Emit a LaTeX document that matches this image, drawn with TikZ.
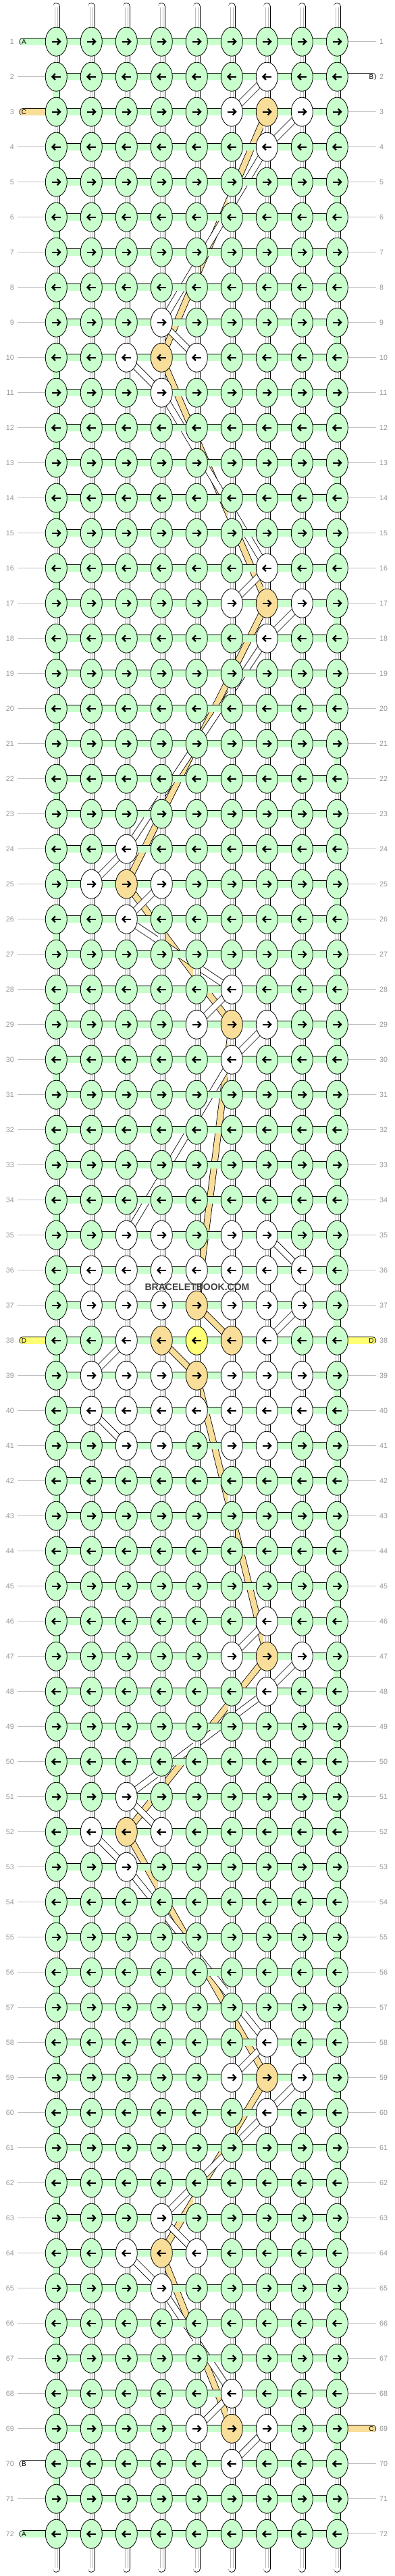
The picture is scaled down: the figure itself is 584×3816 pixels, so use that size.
\documentclass[tikz,border=0pt]{standalone}
\usepackage{fontspec}
\setmainfont{Liberation Sans}
\usetikzlibrary{shapes.geometric}
\definecolor{kgreen}{RGB}{200,255,204}
\definecolor{korange}{RGB}{249,222,154}
\definecolor{kyellow}{RGB}{255,255,117}
\definecolor{kwhite}{RGB}{255,255,255}
\definecolor{numgray}{RGB}{150,150,150}
\definecolor{linegray}{RGB}{190,190,190}
\definecolor{innergray}{RGB}{185,185,185}
\definecolor{wmgray}{RGB}{64,64,64}
\pgfdeclarelayer{diag}
\pgfdeclarelayer{seg}
\pgfsetlayers{diag,seg,main}
\newcommand\knotrow[2]{\foreach \cc/\kk in {#2}{\expandafter\xdef\csname kc-#1-\cc\endcsname{\kk}}}
\knotrow{2}{7/kwhite}
\knotrow{3}{6/kwhite,7/korange,8/kwhite}
\knotrow{4}{7/kwhite}
\knotrow{9}{4/kwhite}
\knotrow{10}{3/kwhite,4/korange,5/kwhite}
\knotrow{11}{4/kwhite}
\knotrow{16}{7/kwhite}
\knotrow{17}{6/kwhite,7/korange,8/kwhite}
\knotrow{18}{7/kwhite}
\knotrow{24}{3/kwhite}
\knotrow{25}{2/kwhite,3/korange,4/kwhite}
\knotrow{26}{3/kwhite}
\knotrow{28}{6/kwhite}
\knotrow{29}{5/kwhite,6/korange,7/kwhite}
\knotrow{30}{6/kwhite}
\knotrow{35}{3/kwhite,4/kwhite,6/kwhite,7/kwhite}
\knotrow{36}{2/kwhite,3/kwhite,4/kwhite,5/kwhite,6/kwhite,7/kwhite,8/kwhite}
\knotrow{37}{2/kwhite,3/kwhite,4/kwhite,5/korange,6/kwhite,7/kwhite,8/kwhite}
\knotrow{38}{3/kwhite,4/korange,5/kyellow,6/korange,7/kwhite}
\knotrow{39}{2/kwhite,3/kwhite,4/kwhite,5/korange,6/kwhite,7/kwhite,8/kwhite}
\knotrow{40}{2/kwhite,3/kwhite,4/kwhite,5/kwhite,6/kwhite,7/kwhite,8/kwhite}
\knotrow{41}{3/kwhite,4/kwhite,6/kwhite,7/kwhite}
\knotrow{46}{7/kwhite}
\knotrow{47}{6/kwhite,7/korange,8/kwhite}
\knotrow{48}{7/kwhite}
\knotrow{51}{3/kwhite}
\knotrow{52}{2/kwhite,3/korange,4/kwhite}
\knotrow{53}{3/kwhite}
\knotrow{58}{7/kwhite}
\knotrow{59}{6/kwhite,7/korange,8/kwhite}
\knotrow{60}{7/kwhite}
\knotrow{63}{4/kwhite}
\knotrow{64}{3/kwhite,4/korange,5/kwhite}
\knotrow{65}{4/kwhite}
\knotrow{68}{6/kwhite}
\knotrow{69}{5/kwhite,6/korange,7/kwhite}
\knotrow{70}{6/kwhite}
\begin{document}
\begin{tikzpicture}[x=1pt,y=-1pt,
 knot/.style={shape=ellipse,draw=black,line width=0.8pt,minimum width=32pt,minimum height=43pt,inner sep=0pt},
 arrowline/.style={line width=2.3pt,line cap=butt,line join=miter},
 strand/.style={draw=black,line width=0.8pt,double=#1,double distance=9.7pt},
 innerline/.style={draw=innergray,line width=0.6pt},
 band/.style={draw=black,line width=0.8pt,double=#1,double distance=8.2pt},
 numlabel/.style={text=numgray,font=\fontsize{10.7}{12}\selectfont,inner sep=0pt},
 stubletter/.style={text=black,font=\fontsize{10}{11}\selectfont,inner sep=0pt},
 guide/.style={draw=linegray,line width=0.8pt},
]
\useasboundingbox (0,0) rectangle (584,3816);
% knots
\foreach \r in {1,...,72}{
 \foreach \c in {1,...,9}{
  \pgfmathsetmacro\xx{83.3+52*(\c-1)}
  \pgfmathsetmacro\yy{61.7+52*(\r-1)}
  \ifcsname kc-\r-\c\endcsname\edef\kcol{\csname kc-\r-\c\endcsname}\else\def\kcol{kgreen}\fi
  \node[knot,fill=\kcol] (k-\r-\c) at (\xx,\yy) {};
  \ifodd\r
   \draw[arrowline] (\xx-6.6,\yy) -- (\xx+6,\yy);
   \draw[arrowline] (\xx+1.4,\yy-4.5) -- (\xx+5.8,\yy) -- (\xx+1.4,\yy+4.5);
  \else
   \draw[arrowline] (\xx+6.6,\yy) -- (\xx-6,\yy);
   \draw[arrowline] (\xx-1.4,\yy-4.5) -- (\xx-5.8,\yy) -- (\xx-1.4,\yy+4.5);
  \fi
 }
}
% straight strands
\begin{pgfonlayer}{seg}
\foreach \r in {1,...,72}{\foreach \c in {1,...,8}{\pgfmathtruncatemacro\cn{\c+1}
  \draw[strand=kgreen] (k-\r-\c.center) -- (k-\r-\cn.center);}}
\foreach \r in {1,...,71}{\pgfmathtruncatemacro\rn{\r+1}
  \ifodd\r \def\gc{9}\else\def\gc{1}\fi
  \foreach \c in {1,...,9}{
    \ifnum\c=\gc
      \draw[strand=kgreen] (k-\r-\c.center) -- (k-\rn-\c.center);
    \else
      \draw[strand=white] (k-\r-\c.center) -- (k-\rn-\c.center);
      \draw[innerline] ([xshift=-2.2pt]k-\r-\c.center) -- ([xshift=-2.2pt]k-\rn-\c.center);
      \draw[innerline] ([xshift=2.2pt]k-\r-\c.center) -- ([xshift=2.2pt]k-\rn-\c.center);
    \fi}}
\foreach \c in {1,...,9}{
  \pgfmathsetmacro\xx{83.3+52*(\c-1)}
  \coordinate (top-\c) at (\xx,9.7);
  \coordinate (bot-\c) at (\xx,3805);
  \draw[strand=white,line cap=round] (top-\c) -- (k-1-\c.center);
  \draw[innerline] (\xx-2.2,11) -- ([xshift=-2.2pt]k-1-\c.center);
  \draw[innerline] (\xx+2.2,11) -- ([xshift=2.2pt]k-1-\c.center);
  \draw[strand=white,line cap=round] (k-72-\c.center) -- (bot-\c);
  \draw[innerline] ([xshift=-2.2pt]k-72-\c.center) -- (\xx-2.2,3803.5);
  \draw[innerline] ([xshift=2.2pt]k-72-\c.center) -- (\xx+2.2,3803.5);
}
% row labels and guide lines
\foreach \r in {1,...,72}{
  \pgfmathsetmacro\yy{61.7+52*(\r-1)}
  \node[numlabel,anchor=east] (ln-\r) at (21,\yy) {\r};
  \node[numlabel,anchor=west] (rn-\r) at (562,\yy) {\r};
  \pgfmathtruncatemacro\hl{(\r==1||\r==3||\r==38||\r==70||\r==72)?1:0}
  \pgfmathtruncatemacro\hr{(\r==2||\r==38||\r==69)?1:0}
  \ifnum\hl=0 \coordinate (lg-\r) at (26,\yy); \draw[guide] (lg-\r) -- (k-\r-1.west);\fi
  \ifnum\hr=0 \coordinate (rg-\r) at (557,\yy); \draw[guide] (k-\r-9.east) -- (rg-\r);\fi
}
% side stubs
\coordinate (ls-1) at (34,61.7);
\coordinate (ls-3) at (34,165.7);
\coordinate (ls-38) at (34,1985.7);
\coordinate (ls-70) at (34,3649.7);
\coordinate (ls-72) at (34,3753.7);
\coordinate (rs-2) at (551.5,113.7);
\coordinate (rs-38) at (551.5,1985.7);
\coordinate (rs-69) at (551.5,3597.7);
\draw[strand=kgreen,line cap=round] (ls-1) -- (k-1-1.center);
\draw[strand=korange,line cap=round] (ls-3) -- (k-3-1.center);
\draw[strand=kyellow,line cap=round] (ls-38) -- (k-38-1.center);
\draw[strand=white,line cap=round] (ls-70) -- (k-70-1.center);
\draw[strand=kgreen,line cap=round] (ls-72) -- (k-72-1.center);
\draw[strand=white,line cap=round] (k-2-9.center) -- (rs-2);
\draw[strand=kyellow,line cap=round] (k-38-9.center) -- (rs-38);
\draw[strand=korange,line cap=round] (k-69-9.center) -- (rs-69);
\end{pgfonlayer}
\node[stubletter] (la-1) at (35.5,61.7) {A};
\node[stubletter] (la-3) at (35.5,165.7) {C};
\node[stubletter] (la-38) at (35.5,1985.7) {D};
\node[stubletter] (la-70) at (35.5,3649.7) {B};
\node[stubletter] (la-72) at (35.5,3753.7) {A};
\node[stubletter] (ra-2) at (550,113.7) {B};
\node[stubletter] (ra-38) at (550,1985.7) {D};
\node[stubletter] (ra-69) at (550,3597.7) {C};
% diagonal strands
\begin{pgfonlayer}{diag}
\foreach \ra/\ca/\rb/\cb in {3/7/10/4,10/4/17/7,17/7/25/3,25/3/29/6,29/6/37/5,37/5/38/6,38/4/39/5,39/5/47/7,47/7/52/3,52/3/59/7,59/7/64/4,64/4/69/6}
  \draw[band=korange] (k-\ra-\ca.center) -- (k-\rb-\cb.center);
\foreach \ra/\ca/\rb/\cb in {2/7/3/6,3/8/4/7,9/4/10/5,10/3/11/4,16/7/17/6,17/8/18/7,24/3/25/2,25/4/26/3,28/6/29/5,29/7/30/6,46/7/47/6,47/8/48/7,51/3/52/4,52/2/53/3,58/7/59/6,59/8/60/7,63/4/64/5,64/3/65/4,68/6/69/5,69/7/70/6,35/7/36/8,37/8/38/7,38/3/39/2,40/2/41/3,4/7/9/4,11/4/16/7,18/7/24/3,26/3/28/6,30/6/35/3,48/7/51/3,53/3/58/7,60/7/63/4,65/4/68/6}
  \draw[band=white] (k-\ra-\ca.center) -- (k-\rb-\cb.center);
\end{pgfonlayer}
\node[font=\bfseries\fontsize{14}{16}\selectfont,text=wmgray,inner sep=0pt] (wm) at (292,1907) {BRACELETBOOK.COM};
\end{tikzpicture}
\end{document}
